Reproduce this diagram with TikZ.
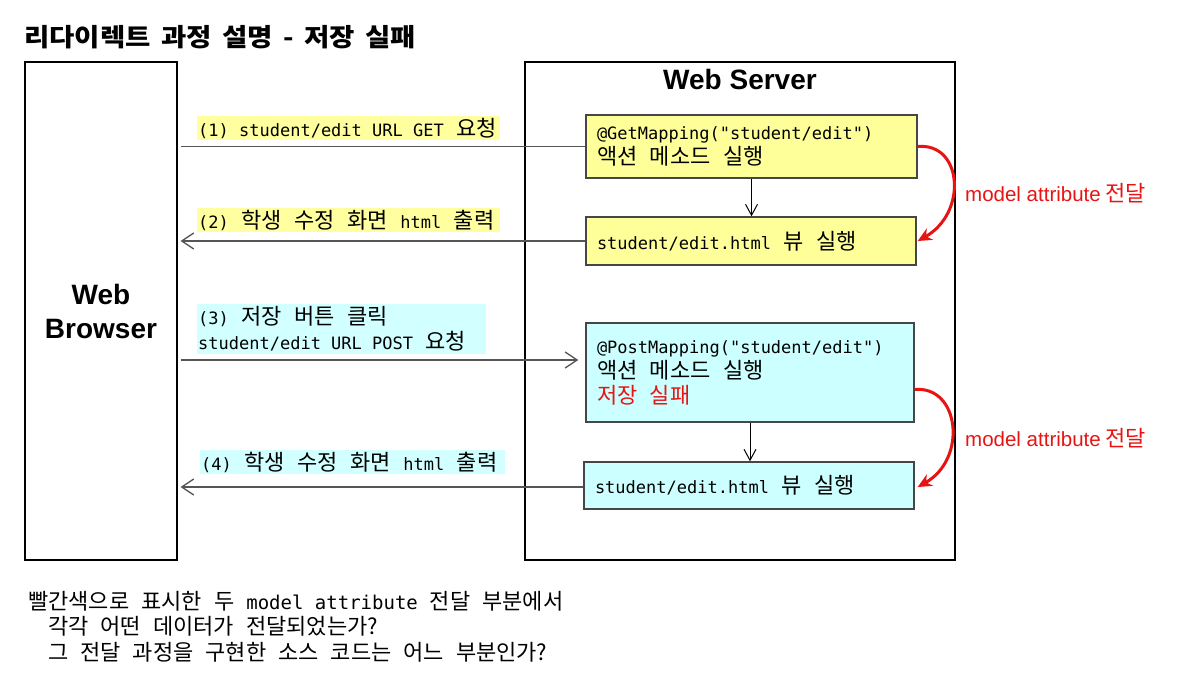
\documentclass[tikz,border=0pt]{standalone}
\usepackage{fontspec}
\usetikzlibrary{arrows.meta}
\setmainfont{Noto Sans CJK KR}
\newfontfamily\titlekr{Noto Sans CJK KR}[FakeStretch=1.1]
\newfontfamily\mono{DejaVu Sans Mono}
\newfontfamily\arial{Liberation Sans}
\newcommand\mt[1]{{\mono\fontsize{17}{25}\selectfont\spaceskip=0pt\xspaceskip=0pt\relax #1}}
\newcommand\mb[1]{{\mono\fontsize{19}{26}\selectfont\spaceskip=0pt\xspaceskip=0pt\relax #1}}
\newcommand\boxfont{\fontsize{22}{25}\selectfont}
\newcommand\qfont{\fontsize{22}{26}\selectfont\spaceskip=12pt\relax}
\newcommand\titlefont{\titlekr\fontsize{25}{30}\selectfont\bfseries\spaceskip=10.5pt\relax}
\newcommand\redfont{\fontsize{22}{24}\selectfont}
\definecolor{boxyellow}{RGB}{255,255,153}
\definecolor{boxcyan}{RGB}{204,255,255}
\definecolor{hlyellow}{RGB}{255,255,160}
\definecolor{hlcyan}{RGB}{210,255,255}
\definecolor{myred}{RGB}{232,20,20}
\definecolor{boxline}{RGB}{70,70,70}
\definecolor{conline}{RGB}{85,85,85}
\tikzset{
  widespace/.style={execute at begin node={\spaceskip=12.5pt\xspaceskip=12.5pt\relax}},
  frame/.style={draw=black, line width=1.2pt, inner sep=0pt},
  stepbox/.style={draw=boxline, line width=1.4pt, inner sep=0pt, align=left, font=\boxfont, widespace},
  hl/.style={inner sep=1pt, align=left, anchor=west, font=\boxfont, widespace},
  conn/.style={draw=conline, line width=1.5pt},
  barb/.style={-{Straight Barb[length=12pt,width=16pt,line width=1.3pt]}},
  down/.style={draw=black, line width=1pt, -{Straight Barb[length=11pt,width=12pt,line width=1pt]}},
  redarc/.style={draw=myred, line width=3pt, -{Stealth[length=14pt,width=13pt]}},
  redlabel/.style={text=myred, anchor=west, inner sep=0pt, font=\redfont},
  question/.style={anchor=west, inner sep=0pt, font=\qfont},
}
\begin{document}
\begin{tikzpicture}[x=1pt,y=-1pt]
\useasboundingbox[fill=white] (0,0) rectangle (1180,683);
% title
\node[anchor=west, inner sep=0pt, font=\titlefont] (title) at (24,37) {리다이렉트 과정 설명 - 저장 실패};
% frames
\node[frame, minimum width=152pt, minimum height=498pt] (br) at (101,311) {};
\node[align=center, font=\arial\bfseries\fontsize{28}{34}\selectfont] (brt) at (101,311) {Web\\Browser};
\node[frame, minimum width=430pt, minimum height=498pt] (sv) at (740,311) {};
\node[font=\arial\bfseries\fontsize{28}{34}\selectfont, inner sep=0pt] (svt) at (740,79) {Web Server};
% server boxes
\node[stepbox, fill=boxyellow, minimum width=331pt, minimum height=63pt, text width=309pt] (b1) at (751.5,146.5)
  {\mt{@GetMapping("student/edit")}\\액션 메소드 실행};
\node[stepbox, fill=boxyellow, minimum width=330pt, minimum height=48pt, text width=308pt] (b2) at (751,241)
  {\mt{student/edit.html} 뷰 실행};
\node[stepbox, fill=boxcyan, minimum width=328pt, minimum height=99pt, text width=306pt] (b3) at (750,372.5)
  {\mt{@PostMapping("student/edit")}\\액션 메소드 실행\\{\color{myred}저장 실패}};
\node[stepbox, fill=boxcyan, minimum width=330pt, minimum height=47pt, text width=308pt] (b4) at (749,485.5)
  {\mt{student/edit.html} 뷰 실행};
% labels
\node[hl, fill=hlyellow, text width=301pt, minimum height=24pt] (l1) at (197,128) {\mt{(1) student/edit URL GET} 요청};
\node[hl, fill=hlyellow, text width=301pt, minimum height=24pt] (l2) at (197,220) {\mt{(2)} 학생 수정 화면 \mt{html} 출력};
\node[hl, fill=hlcyan, text width=287pt, minimum height=50pt] (l3) at (197,329) {\mt{(3)} 저장 버튼 클릭\\\mt{student/edit URL POST} 요청};
\node[hl, fill=hlcyan, text width=303pt, minimum height=24pt] (l4) at (200,462) {\mt{(4)} 학생 수정 화면 \mt{html} 출력};
% connectors
\draw[conn] (b1.west) -- ([xshift=3pt]b1.west -| br.east);
\draw[conn, barb] (b2.west) -- ([xshift=3pt]b2.west -| br.east);
\coordinate (p3) at (b3.west |- 0,360);
\draw[conn, barb] ([xshift=3pt]p3 -| br.east) -- ([xshift=-7pt]p3);
\draw[conn, barb] ([yshift=-1.5pt]b4.west) -- ([xshift=3pt,yshift=-1.5pt]b4.west -| br.east);
\draw[down] (b1.south) -- (b1.south |- b2.north);
\draw[down] (b3.south) -- (b3.south |- b4.north);
% red arcs
\draw[redarc] (b1.east) .. controls +(45,-4) and +(50,-28) .. ([xshift=1pt]b2.east);
\draw[redarc] ([yshift=-17pt]b3.east) .. controls +(45,-4) and +(50,-28) .. ([xshift=3pt,yshift=-1.5pt]b4.east);
\node[redlabel] (r1) at (965,193) {{\arial\fontsize{20.5}{24}\selectfont model attribute} 전달};
\node[redlabel] (r2) at (965,438) {{\arial\fontsize{20.5}{24}\selectfont model attribute} 전달};
% bottom question
\node[question] (q1) at (28,601) {빨간색으로 표시한 두 \mb{model attribute} 전달 부분에서};
\node[question] (q2) at (48,626) {각각 어떤 데이터가 전달되었는가?};
\node[question] (q3) at (48,652) {그 전달 과정을 구현한 소스 코드는 어느 부분인가?};
\end{tikzpicture}
\end{document}
